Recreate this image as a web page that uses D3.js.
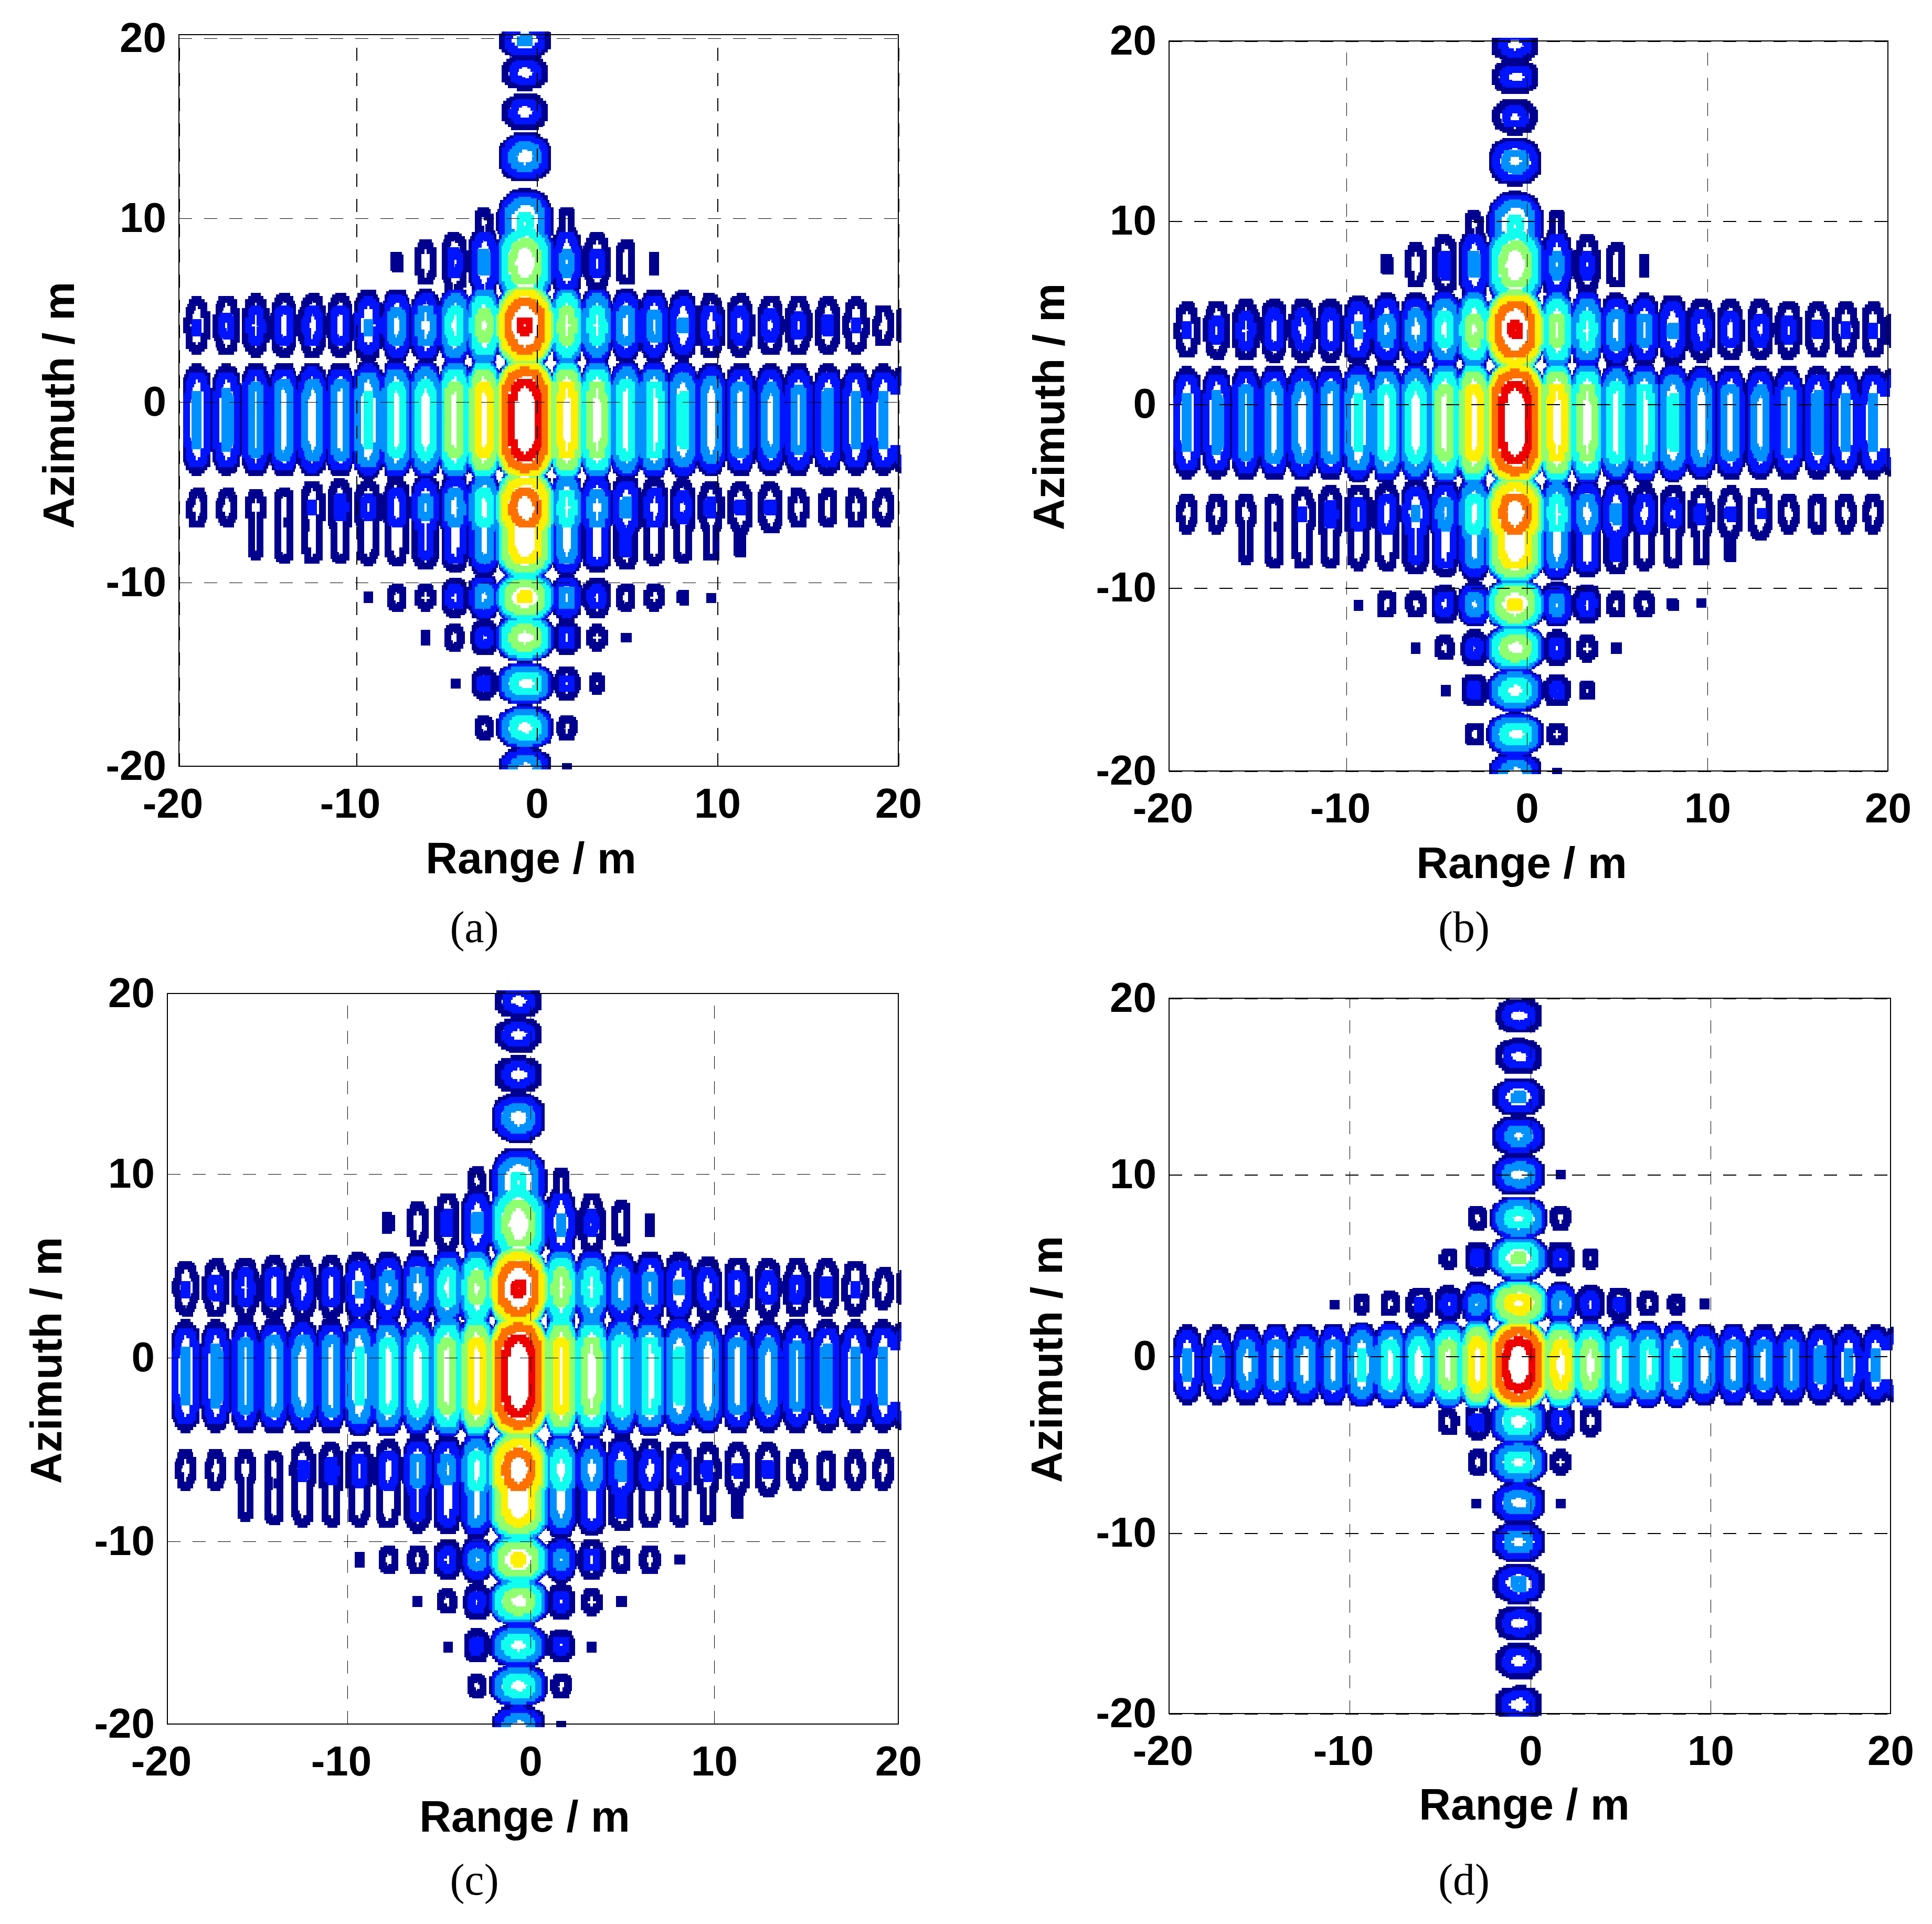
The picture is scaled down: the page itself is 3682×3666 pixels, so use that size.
<!DOCTYPE html>
<html>
<head>
<meta charset="utf-8">
<script src="https://d3js.org/d3.v7.min.js"></script>
<style>
  html, body { margin: 0; background: #fff; }
  text { fill: #000; }
  .tick text, .axis-label { font-family: "Liberation Sans", sans-serif; font-weight: bold; }
  .caption { font-family: "Liberation Serif", serif; }
</style>
</head>
<body>
<svg id="fig" width="3682" height="3666"></svg>
<script>
// tick labels and contour levels
var axisTicks = [-20, -10, 0, 10, 20];
var contourLevels = [1, 2, 3, 4, 5, 6, 7, 8];
var levelColors = ["#00008f", "#0014ff", "#0091ff", "#10ffef", "#8fff70", "#ffef00", "#ff7000", "#ef0000"];

// lobe columns, range in m, and the half width of each lobe
var rangeColumns = [-18.98, -17.31, -15.67, -14.09, -12.47, -10.91, -9.35, -7.77, -6.16, -4.54, -2.93, -0.65, 1.67, 3.33, 4.95, 6.51, 8.09, 9.65, 11.26, 12.93, 14.49, 16.1, 17.66, 19.19, 20.3];
var columnHalfWidth = [0.85, 0.85, 0.85, 0.85, 0.85, 0.85, 0.85, 0.85, 0.85, 0.85, 0.85, 1.55, 0.85, 0.85, 0.85, 0.85, 0.85, 0.85, 0.85, 0.85, 0.85, 0.85, 0.85, 0.85, 0.85];

// panel (a): lobe rows, azimuth in m, peak level per column
var azimuthA = [19.9, 18.1, 15.9, 13.4, 9.8, 7.6, 4.15, -1, -5.85, -7.6, -10.8, -13, -15.5, -17.9, -20.1];
var rowHalfA = [1.1, 1.1, 1.2, 1.4, 1.9, 2, 2.2, 2.2, 2.1, 1.6, 1.3, 1.2, 1.1, 1.1, 1.1];
var rowFlatA = [0, 0, 0, 0, 0, 0.2, 0, 1.1, 0, 0.5, 0, 0, 0, 0, 0];
var levelsA = [
  [0,0,0,0,0,0,0,0,0,0,0,3.05,0,0,0,0,0,0,0,0,0,0,0,0,0],
  [0,0,0,0,0,0,0,0,0,0,0,2.5,0,0,0,0,0,0,0,0,0,0,0,0,0],
  [0,0,0,0,0,0,0,0,0,0,0,2.5,0,0,0,0,0,0,0,0,0,0,0,0,0],
  [0,0,0,0,0,0,0,0,0,0,0,3.5,0,0,0,0,0,0,0,0,0,0,0,0,0],
  [0,0,0,0,0,0,0,0,0,0,1.3,4.1,1.3,0,0,0,0,0,0,0,0,0,0,0,0],
  [0,0,0,0,0,0,0,1.04,1.5,2.15,3.1,5.5,3.1,2.15,1.5,1.05,0,0,0,0,0,0,0,0,0],
  [2.05,2.2,2.4,2.5,2.5,2.5,3.05,3.4,3.5,4.4,5.3,8.05,5.4,4.4,3.5,3.3,3.05,2.5,2.4,2.3,2.2,2.1,2.03,1.5,1.3],
  [3.05,3.08,3.3,3.5,3.5,3.5,4.05,4.4,4.5,5.4,6.4,8.5,6.4,5.4,4.5,4.4,4.05,3.6,3.4,3.3,3.2,3.1,3.05,3.05,2.9],
  [1.5,1.5,1.5,1.5,2.05,2.2,2.2,2.5,3.2,3.5,4.5,7.5,4.4,3.5,3.1,2.5,2.3,2.1,2.05,2.05,1.5,1.5,1.5,1.5,0],
  [0,0,1.2,1.4,1.5,1.5,1.55,1.7,2.2,2.5,3.5,6.5,3.5,2.8,2.1,1.6,1.5,1.3,1.1,0,0,0,0,0,0],
  [0,0,0,0,0,0,1.03,1.5,1.5,2.4,3.4,6.05,3.3,2.4,1.5,1.5,1.08,1.01,0,0,0,0,0,0,0],
  [0,0,0,0,0,0,0,0,1.05,1.5,2.3,5.5,2.3,1.5,1.05,0,0,0,0,0,0,0,0,0,0],
  [0,0,0,0,0,0,0,0,0,1.04,2.2,4.5,2.2,1.3,0,0,0,0,0,0,0,0,0,0,0],
  [0,0,0,0,0,0,0,0,0,0,1.5,4.5,1.5,0,0,0,0,0,0,0,0,0,0,0,0],
  [0,0,0,0,0,0,0,0,0,0,0,3.5,1.05,0,0,0,0,0,0,0,0,0,0,0,0]
];

// panel (b)
var azimuthB = [19.8, 18, 15.8, 13.3, 9.8, 7.6, 4.05, -1, -5.95, -7.6, -10.9, -13.3, -15.6, -18, -20.1];
var rowHalfB = [1.1, 1.1, 1.2, 1.4, 1.9, 2, 2.2, 2.2, 2.1, 1.6, 1.3, 1.2, 1.1, 1.1, 1.1];
var rowFlatB = [0, 0, 0, 0, 0, 0.2, 0, 1.1, 0, 0.5, 0, 0, 0, 0, 0];
var levelsB = [
  [0,0,0,0,0,0,0,0,0,0,0,2.5,0,0,0,0,0,0,0,0,0,0,0,0,0],
  [0,0,0,0,0,0,0,0,0,0,0,2.5,0,0,0,0,0,0,0,0,0,0,0,0,0],
  [0,0,0,0,0,0,0,0,0,0,0,2.3,0,0,0,0,0,0,0,0,0,0,0,0,0],
  [0,0,0,0,0,0,0,0,0,0,0,3.3,0,0,0,0,0,0,0,0,0,0,0,0,0],
  [0,0,0,0,0,0,0,0,0,0,1.3,4.1,1.3,0,0,0,0,0,0,0,0,0,0,0,0],
  [0,0,0,0,0,0,0,1.04,1.5,2.1,3.1,5.5,3.1,2.1,1.5,1.05,0,0,0,0,0,0,0,0,0],
  [2.05,2.2,2.4,2.5,2.5,2.5,3.05,3.3,3.5,4.4,5.3,8.05,5.3,4.4,3.5,3.3,3.05,2.5,2.4,2.3,2.2,2.08,2.05,2.03,1.3],
  [3.05,3.08,3.3,3.5,3.5,3.5,4.05,4.4,4.5,5.4,6.4,8.5,6.4,5.4,4.5,4.4,4.05,3.6,3.4,3.3,3.2,3.1,3.05,3.05,2.9],
  [1.5,1.5,1.5,1.5,2.03,2.2,2.3,2.5,3.05,3.3,4.5,7.5,4.4,3.5,3.1,2.5,2.3,2.1,2.05,2.03,1.5,1.5,1.5,1.5,0],
  [0,0,1.2,1.4,1.5,1.5,1.55,1.7,2.2,2.5,3.5,6.5,3.5,2.8,2.1,1.6,1.5,1.3,1.1,0,0,0,0,0,0],
  [0,0,0,0,0,0,1.03,1.5,1.5,2.4,3.4,6.05,3.3,2.4,1.5,1.5,1.08,1.01,0,0,0,0,0,0,0],
  [0,0,0,0,0,0,0,0,1.05,1.5,2.3,5.5,2.3,1.5,1.05,0,0,0,0,0,0,0,0,0,0],
  [0,0,0,0,0,0,0,0,0,1.04,2.2,4.5,2.2,1.3,0,0,0,0,0,0,0,0,0,0,0],
  [0,0,0,0,0,0,0,0,0,0,1.5,4.5,1.5,0,0,0,0,0,0,0,0,0,0,0,0],
  [0,0,0,0,0,0,0,0,0,0,0,3.5,1.05,0,0,0,0,0,0,0,0,0,0,0,0]
];

// panel (c)
var azimuthC = [19.6, 17.7, 15.5, 13.1, 9.6, 7.3, 3.8, -1, -6.1, -7.8, -11, -13.3, -15.7, -17.9, -20.1];
var rowHalfC = [1.1, 1.1, 1.2, 1.4, 1.9, 2, 2.2, 2.2, 2.1, 1.6, 1.3, 1.2, 1.1, 1.1, 1.1];
var rowFlatC = [0, 0, 0, 0, 0, 0.2, 0, 1.1, 0, 0.5, 0, 0, 0, 0, 0];
var levelsC = [
  [0,0,0,0,0,0,0,0,0,0,0,2.5,0,0,0,0,0,0,0,0,0,0,0,0,0],
  [0,0,0,0,0,0,0,0,0,0,0,2.5,0,0,0,0,0,0,0,0,0,0,0,0,0],
  [0,0,0,0,0,0,0,0,0,0,0,2.5,0,0,0,0,0,0,0,0,0,0,0,0,0],
  [0,0,0,0,0,0,0,0,0,0,0,3.5,0,0,0,0,0,0,0,0,0,0,0,0,0],
  [0,0,0,0,0,0,0,0,0,0,1.3,4.1,1.3,0,0,0,0,0,0,0,0,0,0,0,0],
  [0,0,0,0,0,0,0,1.04,1.5,2.1,3.05,5.5,3.05,2.1,1.5,1.05,0,0,0,0,0,0,0,0,0],
  [2.05,2.2,2.4,2.5,2.5,2.5,3.05,3.3,3.5,4.4,5.3,8.05,5.4,4.4,3.5,3.3,3.05,2.5,2.4,2.3,2.2,2.1,2.05,1.5,1.3],
  [3.05,3.08,3.3,3.5,3.5,3.5,4.05,4.4,4.5,5.4,6.4,8.5,6.3,5.4,4.5,4.4,4.05,3.6,3.4,3.3,3.2,3.1,3.05,3.05,2.9],
  [1.5,1.5,1.5,1.5,2.1,2.2,2.3,2.5,3.3,3.3,4.5,7.5,4.5,3.5,3.1,2.5,2.3,2.1,2.05,2.1,1.5,1.5,1.5,1.5,0],
  [0,0,1.2,1.4,1.5,1.5,1.55,1.7,2.2,2.5,3.5,6.5,3.5,2.8,2.1,1.6,1.5,1.3,1.1,0,0,0,0,0,0],
  [0,0,0,0,0,0,1.05,1.5,1.5,2.4,3.3,6.05,3.2,2.3,1.5,1.5,1.05,0,0,0,0,0,0,0,0],
  [0,0,0,0,0,0,0,0,1.05,1.5,2.3,5.5,2.3,1.5,1.05,0,0,0,0,0,0,0,0,0,0],
  [0,0,0,0,0,0,0,0,0,1.05,2.2,4.5,2.2,1.05,0,0,0,0,0,0,0,0,0,0,0],
  [0,0,0,0,0,0,0,0,0,0,1.5,4.5,1.5,0,0,0,0,0,0,0,0,0,0,0,0],
  [0,0,0,0,0,0,0,0,0,0,1.02,3.5,1.02,0,0,0,0,0,0,0,0,0,0,0,0]
];

// panel (d)
var azimuthD = [19, 16.7, 14.4, 12.2, 10, 7.6, 5.4, 2.9, -0.5, -3.7, -6, -8.3, -10.5, -12.8, -15, -17.1, -19.5];
var rowHalfD = [1.15, 1.15, 1.15, 1.15, 1.15, 1.15, 1.15, 1.2, 1.9, 1.3, 1.2, 1.15, 1.15, 1.15, 1.15, 1.15, 1.15];
var rowFlatD = [0, 0, 0, 0, 0, 0, 0, 0, 0.5, 0, 0, 0, 0, 0, 0, 0, 0];
var levelsD = [
  [0,0,0,0,0,0,0,0,0,0,0,2.5,0,0,0,0,0,0,0,0,0,0,0,0,0],
  [0,0,0,0,0,0,0,0,0,0,0,2.5,0,0,0,0,0,0,0,0,0,0,0,0,0],
  [0,0,0,0,0,0,0,0,0,0,0,3.05,0,0,0,0,0,0,0,0,0,0,0,0,0],
  [0,0,0,0,0,0,0,0,0,0,0,3.3,0,0,0,0,0,0,0,0,0,0,0,0,0],
  [0,0,0,0,0,0,0,0,0,0,0,3.5,1.03,0,0,0,0,0,0,0,0,0,0,0,0],
  [0,0,0,0,0,0,0,0,0,0,1.5,4.3,1.5,0,0,0,0,0,0,0,0,0,0,0,0],
  [0,0,0,0,0,0,0,0,0,1.3,2.2,5.05,2.2,1.3,0,0,0,0,0,0,0,0,0,0,0],
  [0,0,0,0,0,1.03,1.3,1.5,2.1,2.3,3.3,6.3,3.4,2.4,2.1,1.5,1.3,1.05,1.01,0,0,0,0,0,0],
  [3.05,3.08,3.4,3.5,3.5,3.5,4.05,4.4,4.5,5.4,6.5,8.5,6.4,5.4,4.5,4.4,4.05,3.6,3.5,3.4,3.3,3.1,3.05,3.05,2.9],
  [0,0,0,0,0,0,0,0,0,1.5,2.2,4.5,2.4,1.7,0,0,0,0,0,0,0,0,0,0,0],
  [0,0,0,0,0,0,0,0,0,0,1.5,4.4,1.5,0,0,0,0,0,0,0,0,0,0,0,0],
  [0,0,0,0,0,0,0,0,0,0,1.03,3.5,1.03,0,0,0,0,0,0,0,0,0,0,0,0],
  [0,0,0,0,0,0,0,0,0,0,0,3.4,0,0,0,0,0,0,0,0,0,0,0,0,0],
  [0,0,0,0,0,0,0,0,0,0,0,3.1,0,0,0,0,0,0,0,0,0,0,0,0,0],
  [0,0,0,0,0,0,0,0,0,0,0,2.5,0,0,0,0,0,0,0,0,0,0,0,0,0],
  [0,0,0,0,0,0,0,0,0,0,0,2.5,0,0,0,0,0,0,0,0,0,0,0,0,0],
  [0,0,0,0,0,0,0,0,0,0,0,2.6,0,0,0,0,0,0,0,0,0,0,0,0,0]
];

// layout of each panel on the page, pixels
var panels = [
  { name: "(a)", az: azimuthA, half: rowHalfA, flat: rowFlatA, levels: levelsA,
    xPx: [341, 679, 1023, 1367, 1712], yPx: [73, 416, 766, 1110, 1460], top: 66,
    azX: 113, azY: 772, rangeX: 1012, rangeY: 1664, capX: 904, capY: 1795, gridV: 2, gridH: 1 },
  { name: "(b)", az: azimuthB, half: rowHalfB, flat: rowFlatB, levels: levelsB,
    xPx: [2228, 2566, 2910, 3254, 3598], yPx: [78, 421, 770, 1120, 1469], top: 78,
    azX: 2000, azY: 775, rangeX: 2900, rangeY: 1673, capX: 2790, capY: 1795, gridV: 1, gridH: 2 },
  { name: "(c)", az: azimuthC, half: rowHalfC, flat: rowFlatC, levels: levelsC,
    xPx: [319, 662, 1011, 1361, 1712], yPx: [1893, 2237, 2587, 2937, 3285], top: 1893,
    azX: 89, azY: 2592, rangeX: 1000, rangeY: 3490, capX: 904, capY: 3610, gridV: 1, gridH: 1 },
  { name: "(d)", az: azimuthD, half: rowHalfD, flat: rowFlatD, levels: levelsD,
    xPx: [2228, 2572, 2917, 3260, 3603], yPx: [1902, 2238, 2584, 2921, 3265], top: 1902,
    azX: 1996, azY: 2590, rangeX: 2905, rangeY: 3467, capX: 2790, capY: 3610, gridV: 1, gridH: 2 }
];

var lineWidth = 13;
var gridStep = 1 / 6;
var gridMin = -22;
var gridSize = 264;
var dbScale = 1.63;

function sinc(u) {
  if (u === 0) return 1;
  return Math.sin(Math.PI * u) / (Math.PI * u);
}

// level drop at normalised distance u from a lobe peak, main lobe of a sinc in dB
function lobeDrop(u) {
  var s = sinc(u);
  return dbScale * Math.log10(Math.max(s * s, 1e-9));
}

function buildField(p) {
  var field = new Float64Array(gridSize * gridSize);
  p.az.forEach(function (az, r) {
    p.levels[r].forEach(function (peak, c) {
      if (!peak) return;
      var rg = rangeColumns[c], wx = columnHalfWidth[c], wy = p.half[r];
      for (var j = 0; j < gridSize; j++) {
        var a = -gridMin - j * gridStep;
        var dy = Math.max(0, Math.abs(a - az) - p.flat[r]) / wy;
        if (dy >= 1) continue;
        for (var i = 0; i < gridSize; i++) {
          var dx = (gridMin + i * gridStep - rg) / wx;
          var u = Math.sqrt(dx * dx + dy * dy);
          if (u >= 1) continue;
          var v = peak + lobeDrop(u);
          if (v > field[j * gridSize + i]) field[j * gridSize + i] = v;
        }
      }
    });
  });
  return field;
}

// turn the 45 degree contour segments into pixel steps
function toSteps(ring) {
  var out = [ring[0]];
  for (var k = 1; k < ring.length; k++) {
    var a = ring[k - 1], b = ring[k];
    if (a[0] !== b[0] && a[1] !== b[1]) {
      if ((k % 2) === 0) out.push([b[0], a[1]]);
      else out.push([a[0], b[1]]);
    }
    out.push(b);
  }
  return out;
}

var svg = d3.select("#fig");

panels.forEach(function (p, idx) {
  var x = d3.scaleLinear().domain(axisTicks).range(p.xPx);
  var y = d3.scaleLinear().domain(axisTicks.slice().reverse()).range(p.yPx);
  var left = p.xPx[0], right = p.xPx[4], bottom = p.yPx[4];
  var g = svg.append("g");

  g.append("clipPath").attr("id", "clip" + idx)
    .append("rect")
    .attr("x", left - 6).attr("y", p.top - 6)
    .attr("width", right - left + 12).attr("height", bottom - p.top + 12);

  var contours = d3.contours().size([gridSize, gridSize]).smooth(false).thresholds(contourLevels)(buildField(p));
  contours.forEach(function (c) {
    c.coordinates = c.coordinates.map(function (poly) { return poly.map(toSteps); });
  });
  var path = d3.geoPath(d3.geoTransform({
    point: function (i, j) {
      this.stream.point(x(gridMin + (i - 0.5) * gridStep), y(-gridMin - (j - 0.5) * gridStep));
    }
  }));

  g.append("g").attr("clip-path", "url(#clip" + idx + ")")
    .selectAll("path").data(contours).enter().append("path")
    .attr("d", path)
    .attr("fill", "none")
    .attr("stroke", function (d, i) { return levelColors[i]; })
    .attr("stroke-width", lineWidth)
    .attr("stroke-linejoin", "miter")
    .attr("shape-rendering", "crispEdges");

  var xAxis = d3.axisBottom(x).tickValues(axisTicks).tickSize(-(bottom - p.yPx[0])).tickPadding(41)
    .tickFormat(function (d) { return String(d); });
  var yAxis = d3.axisLeft(y).tickValues(axisTicks).tickSize(-(right - left)).tickPadding(24)
    .tickFormat(function (d) { return String(d); });

  var gx = g.append("g").attr("transform", "translate(0," + bottom + ")").call(xAxis);
  var gy = g.append("g").attr("transform", "translate(" + left + ",0)").call(yAxis);
  gx.select(".domain").remove();
  gy.select(".domain").remove();
  gx.selectAll(".tick line").attr("stroke", "#000").attr("stroke-width", p.gridV)
    .attr("stroke-dasharray", "25 23").attr("shape-rendering", "crispEdges");
  gy.selectAll(".tick line").attr("stroke", "#000").attr("stroke-width", p.gridH)
    .attr("stroke-dasharray", "25 23").attr("shape-rendering", "crispEdges");
  gx.selectAll(".tick text").attr("font-size", 80).attr("fill", "#000")
    .attr("dx", function (d) { return d < 0 ? -12 : 0; });
  gy.selectAll(".tick text").attr("font-size", 80).attr("fill", "#000");

  g.append("rect")
    .attr("x", left).attr("y", p.top)
    .attr("width", right - left).attr("height", bottom - p.top)
    .attr("fill", "none").attr("stroke", "#000").attr("stroke-width", 2)
    .attr("shape-rendering", "crispEdges");

  g.append("text").attr("class", "axis-label")
    .attr("x", p.rangeX).attr("y", p.rangeY)
    .attr("text-anchor", "middle").attr("font-size", 84)
    .text("Range / m");
  g.append("text").attr("class", "axis-label")
    .attr("transform", "translate(" + (p.azX + 28) + "," + p.azY + ") rotate(-90)")
    .attr("text-anchor", "middle").attr("font-size", 83)
    .text("Azimuth / m");
  g.append("text").attr("class", "caption")
    .attr("x", p.capX).attr("y", p.capY)
    .attr("text-anchor", "middle").attr("font-size", 84)
    .text(p.name);
});
</script>
</body>
</html>
